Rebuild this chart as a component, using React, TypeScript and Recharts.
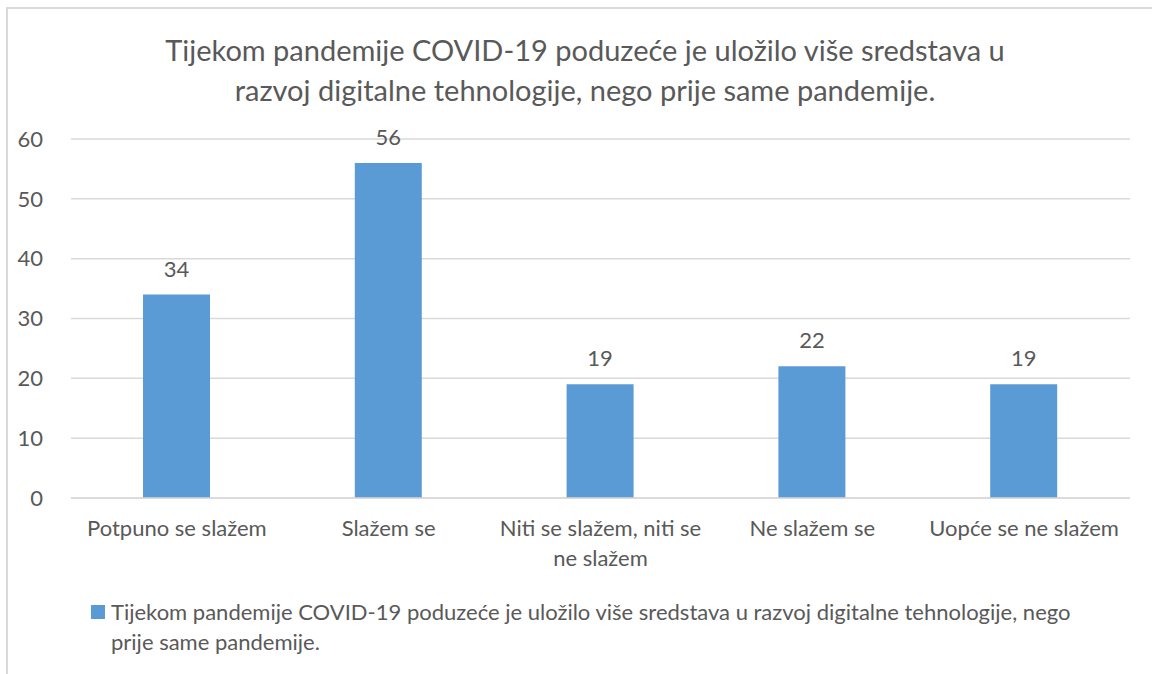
import React from 'react';
import { BarChart, Bar, XAxis, YAxis, CartesianGrid, LabelList } from 'recharts';

const categories = ['Potpuno se slažem', 'Slažem se', 'Niti se slažem, niti se ne slažem', 'Ne slažem se', 'Uopće se ne slažem'];
const values = [34, 56, 19, 22, 19];
const yTicks = [0, 10, 20, 30, 40, 50, 60];
const seriesName = 'Tijekom pandemije COVID-19 poduzeće je uložilo više sredstava u razvoj digitalne tehnologije, nego prije same pandemije.';
const titleLines = ['Tijekom pandemije COVID-19 poduzeće je uložilo više sredstava u', 'razvoj digitalne tehnologije, nego prije same pandemije.'];

const data = categories.map((c, i) => ({ name: c, value: values[i] }));

const FONT = 'Lato, "Open Sans", sans-serif';
const TEXT = '#595959';
const BLUE = '#5b9bd5';

let ctx: CanvasRenderingContext2D | null = null;
const measure = (s: string) => {
  if (!ctx) ctx = document.createElement('canvas').getContext('2d');
  if (!ctx) return s.length * 11;
  ctx.font = `22px ${FONT}`;
  return ctx.measureText(s).width;
};
const wrap = (s: string, maxW: number) => {
  const words = s.split(' ');
  const lines: string[] = [];
  let cur = '';
  words.forEach((w) => {
    const t = cur ? cur + ' ' + w : w;
    if (cur && measure(t) > maxW) {
      lines.push(cur);
      cur = w;
    } else cur = t;
  });
  if (cur) lines.push(cur);
  return lines;
};

const XTick = (props: any) => {
  const { x, y, payload } = props;
  const lines = wrap(String(payload.value), 210);
  return (
    <text x={x} y={y + 14} textAnchor="middle" fill={TEXT} fontSize={22} fontFamily={FONT}>
      {lines.map((l, i) => (
        <tspan key={i} x={x} dy={i === 0 ? '0.71em' : 30}>{l}</tspan>
      ))}
    </text>
  );
};

export default function App() {
  return (
    <div style={{ position: 'absolute', left: 0, top: 0, width: 1152, height: 674, background: '#fff', overflow: 'hidden' }}>
      <div style={{ position: 'absolute', left: 6, top: 7, width: 1160, height: 700, borderTop: '2px solid #d9d9d9', borderLeft: '2px solid #d9d9d9' }} />
      <div style={{ position: 'absolute', left: 0, top: 30, width: 1170, textAlign: 'center', fontFamily: FONT, fontSize: 29, color: TEXT, lineHeight: '40px' }}>
        {titleLines.map((l, i) => <div key={i}>{l}</div>)}
      </div>
      <div style={{ position: 'absolute', left: 0, top: 0 }}>
        <BarChart width={1152} height={674} data={data} margin={{ top: 139, right: 22, bottom: 96, left: 0 }} barCategoryGap={0}>
          <CartesianGrid vertical={false} stroke="#d9d9d9" strokeWidth={1.5} />
          <XAxis dataKey="name" interval={0} tickLine={false} axisLine={{ stroke: '#d9d9d9', strokeWidth: 1.5 }} tick={<XTick />} height={80} />
          <YAxis domain={[0, 60]} ticks={yTicks} width={71} axisLine={false} tickLine={false}
            tick={{ fill: TEXT, fontSize: 22, fontFamily: FONT }} tickMargin={22} />
          <Bar dataKey="value" name={seriesName} fill={BLUE} barSize={67} isAnimationActive={false}>
            <LabelList dataKey="value" position="top" offset={18} fill={TEXT} fontSize={22} fontFamily={FONT} />
          </Bar>
        </BarChart>
      </div>
      <div style={{ position: 'absolute', left: 91, top: 597, display: 'flex', alignItems: 'flex-start', fontFamily: FONT, fontSize: 22, color: TEXT, lineHeight: '30px' }}>
        <span style={{ width: 14, height: 14, background: BLUE, marginTop: 8, marginRight: 6, flex: 'none' }} />
        <span style={{ width: 985 }}>{seriesName}</span>
      </div>
    </div>
  );
}
